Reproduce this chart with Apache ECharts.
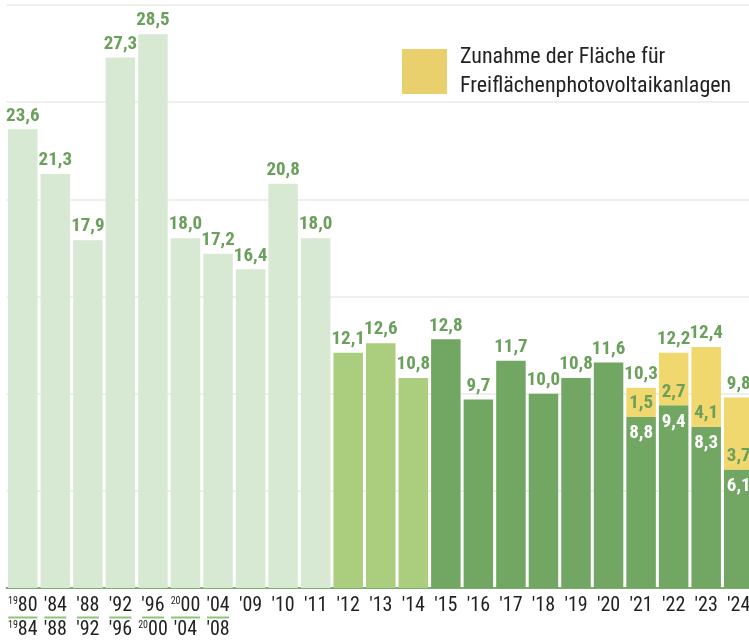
<!DOCTYPE html>
<html><head><meta charset="utf-8">
<script src="https://cdn.jsdelivr.net/npm/echarts@6/dist/echarts.min.js"></script>
<style>html,body{margin:0;padding:0;background:#fff}#c{width:749px;height:641px}</style>
</head><body><div id="c"></div>
<script>
// tick labels (first row / second row for multi-year periods)
const tickTop = ['1980',"'84","'88","'92","'96",'2000',"'04","'09","'10","'11","'12","'13","'14","'15","'16","'17","'18","'19","'20","'21","'22","'23","'24"];
const tickBottom = ['1984',"'88","'92","'96",'2000',"'04","'08",'','','','','','','','','','','','','','','',''];
// values (ha per day), grouped by period colour
const lightValues = [23.6, 21.3, 17.9, 27.3, 28.5, 18.0, 17.2, 16.4, 20.8, 18.0];
const midValues = [12.1, 12.6, 10.8];
const darkValues = [12.8, 9.7, 11.7, 10.0, 10.8, 11.6];
const darkBaseValues = [8.8, 9.4, 8.3, 6.1];
const pvValues = [1.5, 2.7, 4.1, 3.7];
const totalValues = [10.3, 12.2, 12.4, 9.8];

const N = tickTop.length;
function place(arr, start){ const out = new Array(N).fill(null); arr.forEach((v,i)=>out[start+i]=v); return out; }
const iMid = lightValues.length, iDark = iMid + midValues.length, iBase = iDark + darkValues.length;
const categories = tickTop.map((t,i)=> t + (tickBottom[i] ? '–' + tickBottom[i] : ''));

const FONT = "Roboto";
const STRETCH = 'condensed';
const fmt = v => v.toFixed(1).replace('.', ',');
const GREEN_TXT = '#6aa05b';

function tickPart(t){
  if (/^\d{4}$/.test(t)) return '{s|' + t.slice(0,2) + '}{n|' + t.slice(2) + '}';
  return '{n|' + t + '}';
}
const catIndex = {}; categories.forEach((c,i)=>catIndex[c]=i);

const valLabel = (pos, color, dist) => ({
  show: true, position: pos, distance: dist, color: color, fontFamily: FONT, fontStyle: STRETCH, fontWeight: 'bold', fontSize: 19,
  formatter: p => p.value == null ? '' : fmt(p.value)
});

const LEGEND_NAME = 'Zunahme der Fläche für\nFreiflächenphotovoltaikanlagen';

const option = {
  animation: false,
  grid: { left: 6.5, top: 5, width: 748.5, bottom: 53, containLabel: false, outerBoundsMode: 'none' },
  legend: {
    left: 402, top: 38, padding: 0, icon: 'rect', itemWidth: 45, itemHeight: 45, selectedMode: false,
    data: [LEGEND_NAME],
    itemStyle: { color: '#ead06c' },
    textStyle: { fontFamily: FONT, fontStyle: STRETCH, fontSize: 22, lineHeight: 29, color: '#222', padding: [9,0,0,8] }
  },
  xAxis: {
    type: 'category', data: categories,
    axisTick: { show: false },
    axisLine: { lineStyle: { color: '#7cae6b', width: 2 } },
    axisLabel: {
      interval: 0, margin: 8,
      formatter: (val) => {
        const i = catIndex[val];
        let s = tickPart(tickTop[i]);
        if (tickBottom[i]) {
          const wide = /^\d{4}$/.test(tickTop[i]);
          s += '\n' + (wide ? '{u1| }' : '{u2| }') + '\n' + tickPart(tickBottom[i]);
        }
        return s;
      },
      rich: {
        n: { fontFamily: FONT, fontStyle: STRETCH, fontSize: 20, lineHeight: 19, color: '#222' },
        s: { fontFamily: FONT, fontStyle: STRETCH, fontSize: 10, lineHeight: 12, color: '#222', verticalAlign: 'top' },
        u1: { width: 29, height: 2, lineHeight: 5, fontSize: 2, backgroundColor: '#8cc47a' },
        u2: { width: 22, height: 2, lineHeight: 5, fontSize: 2, backgroundColor: '#8cc47a' }
      }
    }
  },
  yAxis: {
    type: 'value', min: 0, max: 30, interval: 5,
    axisLabel: { show: false }, axisLine: { show: false }, axisTick: { show: false },
    splitLine: { lineStyle: { color: '#ebebe4', width: 1.5 } }
  },
  series: [
    { name: 'light', type: 'bar', stack: 's', barWidth: 29.5, data: place(lightValues, 0),
      itemStyle: { color: '#d7e9d2' }, label: valLabel('top', GREEN_TXT, 4) },
    { name: 'mid', type: 'bar', stack: 's', barWidth: 29.5, data: place(midValues, iMid),
      itemStyle: { color: '#abce7e' }, label: valLabel('top', GREEN_TXT, 4) },
    { name: 'dark', type: 'bar', stack: 's', barWidth: 29.5, data: place(darkValues, iDark),
      itemStyle: { color: '#72a663' }, label: valLabel('top', GREEN_TXT, 4) },
    { name: 'darkBase', type: 'bar', stack: 's', barWidth: 29.5, data: place(darkBaseValues, iBase),
      itemStyle: { color: '#72a663' }, label: valLabel('insideTop', '#ffffff', 7) },
    { name: LEGEND_NAME, type: 'bar', stack: 's', barWidth: 29.5, data: place(pvValues, iBase),
      itemStyle: { color: '#f0d76e' }, label: valLabel('insideBottom', GREEN_TXT, 4) },
    { name: 'total', type: 'bar', stack: 's', barWidth: 29.5, data: place(totalValues.map(()=>0), iBase),
      itemStyle: { color: 'rgba(0,0,0,0)' },
      label: { show: true, position: 'top', distance: 4, color: GREEN_TXT, fontFamily: FONT, fontStyle: STRETCH, fontWeight: 'bold', fontSize: 19,
        formatter: p => p.value == null ? '' : fmt(totalValues[p.dataIndex - iBase]) } }
  ]
};
const chart = echarts.init(document.getElementById('c'), null, { renderer: 'canvas' });
chart.setOption(option);
</script>
</body></html>
